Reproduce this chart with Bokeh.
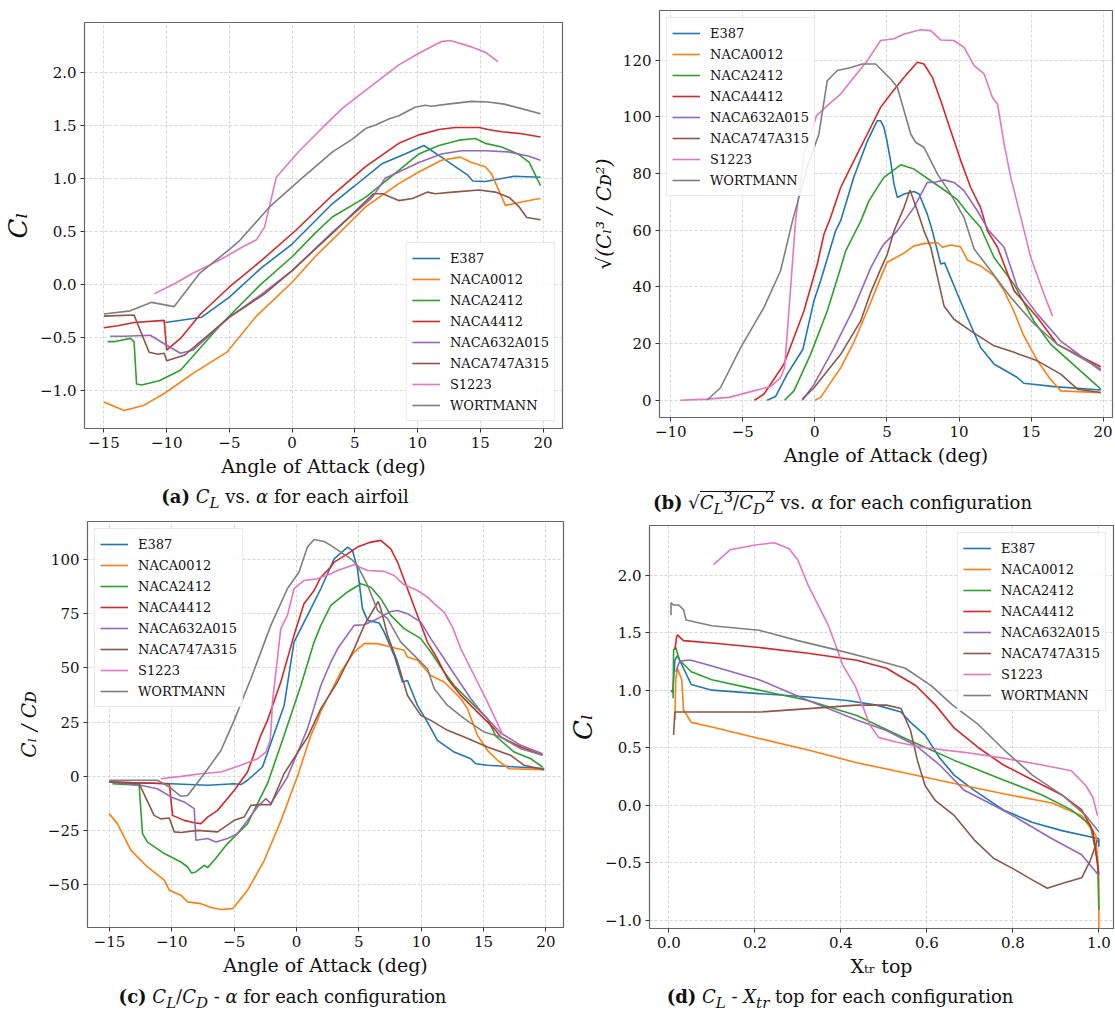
from bokeh.plotting import figure
from bokeh.models import FixedTicker, Div, Range1d
from bokeh.layouts import column, row
from bokeh.embed import file_html
from bokeh.resources import INLINE

NAMES = ["E387", "NACA0012", "NACA2412", "NACA4412", "NACA632A015", "NACA747A315", "S1223", "WORTMANN"]
COLORS = ["#1f77b4", "#ff7f0e", "#2ca02c", "#d62728", "#9467bd", "#8c564b", "#e377c2", "#7f7f7f"]

# ---------------- (a) CL vs alpha ----------------
a_e387_alpha = [-10.1, -7.2, -5, -2.5, 0, 3.2, 5, 7.2, 9, 10.5, 11.9, 13, 14, 14.4, 15.4, 17.7, 19.8]
a_e387_cl = [-0.36, -0.31, -0.12, 0.15, 0.38, 0.76, 0.93, 1.14, 1.23, 1.31, 1.20, 1.11, 1.03, 0.975, 0.97, 1.02, 1.01]
a_n0012_alpha = [-15, -13.4, -11.8, -10.2, -7.9, -5.2, -2.85, 0, 1.9, 3.2, 5.85, 8.5, 10.1, 11.9, 13.4, 14.3, 15.4, 15.9, 17.0, 18.0, 19.3, 19.8]
a_n0012_cl = [-1.11, -1.19, -1.14, -1.03, -0.84, -0.64, -0.30, 0.02, 0.27, 0.42, 0.73, 0.95, 1.06, 1.17, 1.20, 1.15, 1.11, 1.04, 0.745, 0.77, 0.80, 0.81]
a_n2412_alpha = [-14.7, -14.1, -12.9, -12.6, -12.4, -12.0, -10.6, -8.9, -7.7, -5.6, -2.5, 0, 1.9, 3.2, 5.85, 8.5, 10.1, 11.7, 13.3, 14.6, 15.4, 16.7, 18.0, 18.9, 19.8]
a_n2412_cl = [-0.54, -0.54, -0.51, -0.54, -0.94, -0.95, -0.91, -0.81, -0.65, -0.37, 0.0, 0.26, 0.49, 0.635, 0.82, 1.075, 1.23, 1.31, 1.36, 1.375, 1.33, 1.295, 1.23, 1.15, 0.93]
a_n4412_alpha = [-15, -13.9, -12.6, -10.2, -10.0, -8.9, -7.3, -5.0, -2.3, 0.3, 3.2, 5.85, 8.5, 10.1, 11.7, 13.0, 14.9, 15.6, 16.7, 18.3, 19.8]
a_n4412_cl = [-0.41, -0.39, -0.36, -0.34, -0.62, -0.51, -0.28, -0.025, 0.24, 0.51, 0.84, 1.11, 1.33, 1.41, 1.46, 1.48, 1.48, 1.46, 1.44, 1.42, 1.39]
a_n632_alpha = [-14.5, -13.4, -11.3, -10.2, -8.9, -7.9, -5.0, -2.5, 0, 3.2, 6.4, 7.4, 8.5, 10.1, 11.9, 13.5, 15.4, 17.2, 18.8, 19.8]
a_n632_cl = [-0.49, -0.49, -0.48, -0.56, -0.65, -0.62, -0.31, -0.10, 0.13, 0.49, 0.82, 1.0, 1.06, 1.15, 1.23, 1.26, 1.26, 1.25, 1.21, 1.17]
a_n747_alpha = [-15, -12.6, -11.4, -10.7, -10.2, -10.0, -8.6, -5.0, -2.2, 0, 3.2, 6.5, 7.2, 8.5, 9.6, 10.8, 11.4, 12.8, 14.9, 16.2, 17.3, 18.1, 18.7, 19.8]
a_n747_cl = [-0.30, -0.29, -0.64, -0.66, -0.65, -0.72, -0.67, -0.31, -0.09, 0.13, 0.48, 0.855, 0.855, 0.79, 0.81, 0.87, 0.855, 0.87, 0.89, 0.87, 0.82, 0.73, 0.63, 0.61]
a_s1223_alpha = [-11.0, -9.3, -8.0, -6.6, -5.3, -4.0, -2.85, -2.2, -1.26, 0.58, 2.43, 4.0, 5.85, 8.5, 10.1, 11.9, 12.6, 14.3, 15.4, 16.4]
a_s1223_cl = [-0.09, 0.01, 0.10, 0.18, 0.26, 0.35, 0.42, 0.54, 1.01, 1.26, 1.48, 1.66, 1.83, 2.07, 2.18, 2.29, 2.30, 2.24, 2.19, 2.10]
a_wort_alpha = [-15, -12.9, -11.2, -9.4, -7.4, -5.0, -4.16, -1.8, 0.58, 3.22, 4.8, 5.85, 6.6, 7.7, 8.5, 9.8, 10.6, 11.1, 12.4, 14.3, 15.6, 16.9, 18.2, 19.8]
a_wort_cl = [-0.28, -0.25, -0.17, -0.21, 0.10, 0.33, 0.415, 0.73, 0.98, 1.25, 1.37, 1.47, 1.50, 1.56, 1.59, 1.67, 1.69, 1.68, 1.70, 1.726, 1.72, 1.70, 1.66, 1.61]

# ---------------- (b) sqrt(CL^3/CD^2) vs alpha ----------------
b_e387_alpha = [-3.31, -2.73, -1.92, -0.83, -0.07, 0.4, 1.44, 1.79, 2.7, 3.65, 4.33, 4.56, 4.79, 5.0, 5.25, 5.49, 5.72, 6.19, 6.88, 7.23, 7.8, 8.15, 8.73, 9.0, 9.89, 10.58, 11.5, 12.45, 14.05, 14.5, 16.6, 19.84]
b_e387_v = [0, 1.3, 9.2, 18.0, 35, 42.2, 59.8, 63.4, 78.7, 91.6, 98.7, 98.7, 96.3, 91.6, 84.6, 76.3, 71.6, 72.8, 73.7, 72.8, 65.7, 59.8, 48.1, 48.5, 37.5, 29.2, 18.6, 12.7, 8.0, 6.0, 4.8, 3.6]
b_n0012_alpha = [0, 0.4, 1.8, 2.7, 3.87, 4.56, 5.0, 6.2, 6.88, 7.57, 8.5, 8.85, 9.42, 10.1, 10.6, 11.5, 12.43, 13.13, 13.8, 14.5, 15.45, 16.25, 17.06, 19.84]
b_n0012_v = [0, 1, 11.5, 20.4, 34.5, 43.3, 48.6, 52, 54.5, 55.3, 55.7, 54, 54.8, 54.2, 49.4, 47.4, 43.9, 38.6, 31.5, 22.7, 13.9, 8, 3.3, 2.7]
b_n2412_alpha = [-2.1, -1.45, -0.3, 0.86, 1.79, 2.14, 2.72, 3.2, 3.75, 4.56, 4.79, 5.95, 6.88, 8.04, 8.73, 9.89, 10.58, 11.5, 12.43, 13.82, 15.2, 16.37, 18.68, 19.84]
b_n2412_v = [0, 3.3, 16.2, 31.5, 46.8, 52.7, 58.6, 63.4, 70.4, 76.9, 78.7, 83.1, 81.6, 77.5, 75.1, 70.8, 66.3, 61.0, 50.4, 40.9, 27.9, 19.7, 9.2, 3.9]
b_n4412_alpha = [-4.2, -3.54, -2.15, -0.76, 0.17, 0.63, 1.09, 1.79, 2.71, 3.64, 4.56, 5.26, 6.19, 7.11, 7.57, 8.15, 8.73, 9.42, 10.12, 10.81, 11.5, 11.97, 12.67, 13.82, 15.44, 16.83, 19.84]
b_n4412_v = [0, 2.1, 12.7, 31.5, 48.1, 58.6, 64.5, 75.1, 84.6, 94, 103.4, 108.1, 114, 119.3, 118.7, 114, 105.8, 95.2, 84.6, 75.1, 68, 59.8, 54, 38.7, 29.2, 19.7, 11.8]
b_n632_alpha = [-0.87, -0.06, 1.33, 2.72, 3.88, 4.56, 4.79, 5.72, 6.88, 7.8, 8.27, 8.96, 9.65, 10.35, 11.27, 12.08, 13.13, 14.05, 15.44, 17.06, 19.84]
b_n632_v = [0, 5.6, 18.5, 32.7, 46.8, 53.3, 55.1, 59.8, 68.1, 76.9, 76.9, 77.8, 76.9, 74, 66.9, 59.8, 54, 39.8, 30.4, 20.9, 10.4]
b_n747_alpha = [-0.87, -0.06, 1.79, 3.18, 3.87, 4.56, 5.03, 5.49, 6.19, 6.6, 7.11, 7.57, 8.04, 8.96, 9.65, 10.81, 12.43, 13.82, 15.44, 17.06, 18.22, 19.84]
b_n747_v = [0.4, 4.4, 16.2, 28.0, 38.0, 46.3, 51.6, 59.8, 68.1, 74.2, 66.9, 59.8, 54, 33.3, 28.6, 24.5, 19.2, 16.9, 13.9, 9.2, 3.9, 2.7]
b_s1223_alpha = [-9.33, -7.48, -5.97, -4.24, -3.08, -2.38, -2.1, -1.68, -1.34, -0.76, 0.12, 0.86, 1.79, 2.71, 3.64, 4.56, 5.49, 6.19, 7.34, 8.04, 8.73, 9.65, 10.35, 11.05, 11.74, 12.32, 12.67, 13.13, 13.59, 14.52, 14.98, 15.9, 16.49]
b_s1223_v = [0, 0.4, 1.0, 3.3, 4.8, 8.0, 11.5, 39.8, 63.4, 86.9, 100.5, 104, 108.1, 114, 119.9, 127, 127.6, 129.3, 130.8, 130.5, 127.2, 127, 124.6, 118.1, 115.2, 106.9, 104.6, 90.5, 78.7, 59.8, 50.4, 37.4, 29.7]
b_wort_alpha = [-7.48, -6.55, -5.16, -3.54, -2.38, -1.55, -0.53, 0.28, 0.86, 1.56, 2.37, 3.3, 4.21, 4.79, 5.26, 5.72, 6.19, 6.65, 7.0, 7.57, 8.5, 9.42, 10.35, 11.05, 12.2, 13.6, 15.2, 16.83, 19.84]
b_wort_v = [0, 4.4, 18.5, 32.7, 45.7, 63.4, 82.2, 94, 112.8, 116.4, 117.3, 118.7, 118.7, 115.8, 113.4, 110.5, 102.2, 94, 91, 89.3, 79.9, 72.8, 64.5, 53.4, 45.7, 36.3, 27.0, 19.7, 11]

# ---------------- (c) CL/CD vs alpha ----------------
c_e387_alpha = [-15.03, -10.07, -7.1, -5.0, -4.46, -3.93, -2.73, -1.93, -0.99, -0.2, 0.88, 1.95, 3.02, 4.1, 4.49, 4.89, 5.29, 5.7, 6.63, 7.03, 7.83, 8.5, 8.9, 9.7, 10.5, 11.3, 12.64, 13.97, 14.38, 15.3, 19.86]
c_e387_v = [-2.6, -3.4, -4.1, -3.4, -3.8, -1.8, 4.3, 17.4, 32.7, 61.9, 74.2, 86.5, 100.3, 105.7, 104.1, 95.7, 77.3, 71.9, 70.7, 66.5, 55.8, 43.5, 44.2, 32.7, 25.0, 16.6, 11.2, 8.1, 5.8, 5.1, 3.6]
c_n0012_alpha = [-15.03, -14.36, -13.29, -11.95, -10.6, -10.2, -9.27, -8.73, -7.66, -6.86, -6.06, -5.12, -3.92, -2.58, -1.24, 0.1, 1.15, 1.68, 1.95, 2.75, 3.55, 4.62, 5.43, 6.5, 7.56, 8.63, 8.9, 9.7, 10.77, 11.84, 13.18, 13.71, 14.51, 15.31, 16.12, 17.05, 19.86]
c_n0012_v = [-17.2, -21.8, -34, -41.8, -47.9, -52.5, -54.8, -57.9, -58.7, -60.5, -61.4, -61.0, -52.5, -38.7, -20.3, 0.4, 18.9, 25.8, 30, 39, 48.1, 57.3, 61.2, 61.2, 59.6, 58.1, 55.0, 53.5, 46.5, 43.5, 35.8, 31.2, 18.9, 12.0, 7.4, 3.5, 3.1]
c_n2412_alpha = [-14.76, -12.62, -12.35, -11.95, -10.6, -9.27, -8.73, -8.42, -8.07, -7.4, -7.13, -6.6, -5.53, -3.93, -2.33, -0.99, 0.35, 1.41, 1.95, 2.75, 4.09, 5.16, 5.96, 6.76, 7.56, 8.63, 9.97, 10.77, 11.84, 12.64, 13.98, 15.31, 15.98, 17.45, 18.79, 19.73]
c_n2412_v = [-3.4, -4.1, -26.4, -30.3, -35.6, -39.5, -41.8, -44.6, -44.1, -41.0, -42.1, -38.7, -31.0, -21.8, -3.4, 18.9, 41.9, 61.9, 69.6, 78.8, 85.0, 88.8, 87.2, 81.9, 74.2, 68.1, 63.5, 57.3, 48.1, 41.9, 34.2, 26.6, 18.5, 11.2, 8.1, 4.3]
c_n4412_alpha = [-15.03, -10.2, -9.94, -9.0, -8.2, -7.66, -7.13, -6.33, -5.0, -3.93, -2.86, -2.33, -1.26, -0.2, 0.6, 1.41, 1.95, 2.75, 3.02, 4.09, 4.89, 5.96, 6.76, 7.56, 8.1, 8.9, 9.7, 10.5, 11.3, 12.11, 13.18, 14.51, 15.85, 16.38, 17.99, 19.73]
c_n4412_v = [-2.6, -3.4, -18.0, -20.3, -21.4, -21.8, -18.8, -15.7, -6.5, 2.0, 18.9, 25.8, 43.5, 65.0, 79.6, 85.7, 91.8, 96.5, 98.8, 102.6, 105.7, 108, 108.8, 104.9, 98.8, 86.5, 74.2, 61.9, 54.2, 45.0, 37.3, 29.6, 22.0, 18.1, 13.5, 9.7]
c_n632_alpha = [-15.03, -12.49, -11.15, -10.07, -9.0, -8.2, -8.07, -7.13, -6.46, -5.53, -4.73, -3.93, -3.13, -2.46, -2.06, -0.73, 0.88, 1.95, 2.75, 3.29, 4.62, 5.43, 6.5, 7.56, 8.1, 8.9, 9.97, 10.77, 11.84, 12.9, 13.98, 15.05, 16.38, 17.99, 19.73]
c_n632_v = [-2.6, -4.1, -5.7, -9.5, -11.8, -14.9, -29.5, -28.7, -30.3, -28.7, -26.4, -20.3, -14.1, -10.3, -12.6, -0.3, 22.0, 41.9, 52.7, 58.8, 69.6, 69.9, 72.7, 76.0, 76.5, 75.0, 71.1, 63.5, 54.2, 45.0, 35.8, 28.1, 20.0, 14.3, 10.4]
c_n747_alpha = [-15.03, -12.62, -11.42, -10.88, -10.2, -9.8, -9.27, -7.93, -6.33, -5.0, -4.2, -3.66, -2.86, -2.06, -1.0, 0.88, 1.95, 2.75, 3.29, 4.62, 5.43, 6.55, 6.76, 7.3, 8.1, 8.9, 9.97, 10.77, 12.11, 13.45, 15.31, 17.18, 18.25, 19.86]
c_n747_v = [-2.6, -3.4, -18.0, -19.6, -19.2, -25.6, -25.9, -24.9, -25.6, -20.3, -18.8, -13.4, -13.0, -13.1, 1.2, 18.0, 31.2, 38.5, 43.5, 58.8, 69.6, 80.6, 77.3, 65, 52.7, 37.3, 28.1, 25.8, 21.2, 18.1, 13.5, 9.7, 5.1, 3.1]
c_s1223_alpha = [-10.88, -9.27, -7.66, -6.06, -4.46, -3.13, -2.46, -2.11, -2.0, -1.93, -1.26, -0.73, -0.2, 0.6, 1.68, 2.75, 3.29, 4.62, 5.7, 7.03, 7.83, 8.63, 9.7, 10.5, 11.04, 11.84, 12.51, 13.18, 14.25, 15.31, 16.52]
c_s1223_v = [-1.1, 0.0, 1.2, 2.0, 5.1, 8.1, 11.2, 16.6, 25.8, 34.2, 68.1, 74.2, 86.5, 90.3, 91.1, 93.4, 94.9, 97.6, 94.9, 94.5, 92.6, 88.3, 85.7, 82.6, 79.6, 75.7, 68.8, 58.8, 46.5, 34.2, 19.5]
c_wort_alpha = [-15.03, -11.15, -10.2, -9.27, -8.73, -7.4, -6.06, -5.53, -5.0, -3.66, -2.06, -0.73, 0.2, 0.88, 1.41, 2.22, 2.75, 3.55, 4.36, 4.89, 5.7, 6.5, 7.3, 8.36, 9.43, 10.5, 11.04, 12.11, 13.45, 15.05, 16.38, 17.99, 19.73]
c_wort_v = [-1.8, -1.8, -4.9, -9.2, -8.8, 1.2, 11.9, 18.9, 25.8, 45.0, 69.6, 86.5, 94.2, 105.7, 109.2, 108.3, 106.5, 103.4, 100.3, 97.2, 88.0, 76.5, 72.7, 61.9, 55.8, 49.6, 40.4, 32.7, 26.6, 20.4, 18.1, 12.7, 9.7]

# ---------------- (d) CL vs Xtr top ----------------
d_e387_x = [0.005, 0.009, 0.014, 0.02, 0.034, 0.052, 0.1, 0.21, 0.324, 0.415, 0.483, 0.54, 0.562, 0.596, 0.63, 0.664, 0.71, 0.778, 0.846, 0.914, 1.0, 1.0]
d_e387_cl = [1.0, 0.98, 1.26, 1.30, 1.19, 1.05, 1.0, 0.97, 0.94, 0.91, 0.87, 0.81, 0.72, 0.61, 0.41, 0.26, 0.13, -0.04, -0.15, -0.22, -0.29, -0.36]
d_n0012_x = [0.014, 0.016, 0.02, 0.03, 0.034, 0.052, 0.1, 0.21, 0.324, 0.437, 0.55, 0.664, 0.778, 0.891, 0.96, 0.993, 1.0, 1.0]
d_n0012_cl = [0.74, 1.09, 1.19, 1.09, 0.83, 0.72, 0.68, 0.58, 0.48, 0.37, 0.28, 0.19, 0.10, 0.02, -0.09, -0.26, -0.65, -1.19]
d_n2412_x = [0.01, 0.011, 0.016, 0.025, 0.052, 0.1, 0.21, 0.324, 0.437, 0.55, 0.664, 0.778, 0.868, 0.936, 0.98, 0.997, 1.0]
d_n2412_cl = [0.93, 1.35, 1.37, 1.26, 1.16, 1.09, 1.0, 0.91, 0.78, 0.58, 0.39, 0.22, 0.09, -0.04, -0.17, -0.48, -0.91]
d_n4412_x = [0.014, 0.018, 0.02, 0.034, 0.1, 0.21, 0.324, 0.437, 0.506, 0.574, 0.62, 0.664, 0.72, 0.778, 0.846, 0.914, 0.96, 0.986, 1.0]
d_n4412_cl = [1.35, 1.46, 1.48, 1.43, 1.41, 1.37, 1.32, 1.26, 1.19, 1.04, 0.87, 0.67, 0.50, 0.35, 0.22, 0.09, -0.04, -0.22, -0.60]
d_n632_x = [0.016, 0.025, 0.04, 0.052, 0.1, 0.21, 0.324, 0.437, 0.506, 0.574, 0.63, 0.687, 0.755, 0.8, 0.891, 0.96, 1.0]
d_n632_cl = [1.16, 1.25, 1.26, 1.26, 1.21, 1.09, 0.91, 0.74, 0.65, 0.52, 0.35, 0.13, 0.0, -0.09, -0.29, -0.43, -0.61]
d_n747_x = [0.011, 0.014, 0.03, 0.1, 0.21, 0.324, 0.437, 0.506, 0.54, 0.562, 0.578, 0.596, 0.62, 0.664, 0.71, 0.755, 0.8, 0.846, 0.88, 0.914, 0.96, 0.98, 0.997]
d_n747_cl = [0.61, 0.81, 0.81, 0.81, 0.81, 0.84, 0.87, 0.87, 0.84, 0.65, 0.39, 0.17, 0.04, -0.09, -0.30, -0.46, -0.55, -0.65, -0.72, -0.68, -0.63, -0.48, -0.30]
d_s1223_x = [0.104, 0.143, 0.2, 0.245, 0.279, 0.30, 0.324, 0.347, 0.37, 0.388, 0.404, 0.433, 0.45, 0.467, 0.488, 0.528, 0.596, 0.687, 0.778, 0.868, 0.936, 0.97, 0.986, 0.997]
d_s1223_cl = [2.09, 2.22, 2.26, 2.28, 2.23, 2.13, 1.91, 1.74, 1.57, 1.39, 1.22, 1.04, 0.87, 0.70, 0.59, 0.55, 0.50, 0.46, 0.41, 0.35, 0.30, 0.17, 0.07, -0.09]
d_wort_x = [0.005, 0.005, 0.01, 0.023, 0.034, 0.04, 0.1, 0.21, 0.30, 0.39, 0.483, 0.55, 0.61, 0.66, 0.72, 0.78, 0.846, 0.914, 0.97, 1.0]
d_wort_cl = [1.65, 1.76, 1.74, 1.74, 1.70, 1.61, 1.56, 1.52, 1.43, 1.35, 1.26, 1.19, 1.04, 0.87, 0.70, 0.48, 0.26, 0.09, -0.09, -0.23]

# ---------------- ticks ----------------
a_xticks = [-15, -10, -5, 0, 5, 10, 15, 20]
a_xlabels = ["−15", "−10", "−5", "0", "5", "10", "15", "20"]
a_yticks = [-1.0, -0.5, 0.0, 0.5, 1.0, 1.5, 2.0]
a_ylabels = ["−1.0", "−0.5", "0.0", "0.5", "1.0", "1.5", "2.0"]
b_xticks = [-10, -5, 0, 5, 10, 15, 20]
b_xlabels = ["−10", "−5", "0", "5", "10", "15", "20"]
b_yticks = [0, 20, 40, 60, 80, 100, 120]
b_ylabels = ["0", "20", "40", "60", "80", "100", "120"]
c_xticks = [-15, -10, -5, 0, 5, 10, 15, 20]
c_xlabels = ["−15", "−10", "−5", "0", "5", "10", "15", "20"]
c_yticks = [-50, -25, 0, 25, 50, 75, 100]
c_ylabels = ["−50", "−25", "0", "25", "50", "75", "100"]
d_xticks = [0.0, 0.2, 0.4, 0.6, 0.8, 1.0]
d_xlabels = ["0.0", "0.2", "0.4", "0.6", "0.8", "1.0"]
d_yticks = [-1.0, -0.5, 0.0, 0.5, 1.0, 1.5, 2.0]
d_ylabels = ["−1.0", "−0.5", "0.0", "0.5", "1.0", "1.5", "2.0"]

FONT = "DejaVu Serif"


def make_fig(w, h, bl, br, bt, bb, xr, yr, xt, xl, yt, yl, xlabel, ylabel, ylabel_size):
    p = figure(width=w, height=h, output_backend="svg", toolbar_location=None,
               x_range=Range1d(*xr), y_range=Range1d(*yr),
               min_border_left=bl, min_border_right=br, min_border_top=bt, min_border_bottom=bb,
               margin=(0, 0, 0, 0))
    p.xaxis.ticker = FixedTicker(ticks=xt)
    p.yaxis.ticker = FixedTicker(ticks=yt)
    p.xaxis.major_label_overrides = {t: s for t, s in zip(xt, xl)}
    p.yaxis.major_label_overrides = {t: s for t, s in zip(yt, yl)}
    for ax in (p.xaxis[0], p.yaxis[0]):
        ax.axis_line_color = None
        ax.major_tick_in = 0
        ax.major_tick_out = 4
        ax.minor_tick_line_color = None
        ax.major_tick_line_color = "#333333"
        ax.major_label_text_font = FONT
        ax.major_label_text_font_size = "15px"
        ax.major_label_text_color = "#111111"
        ax.major_label_standoff = 4
        ax.axis_label_text_font = FONT
        ax.axis_label_text_font_style = "normal"
        ax.axis_label_text_color = "#111111"
    p.xaxis.axis_label = xlabel
    p.xaxis.axis_label_text_font_size = "19px"
    p.xaxis.axis_label_standoff = 4
    p.yaxis.axis_label = ylabel
    p.yaxis.axis_label_text_font_size = ylabel_size
    p.yaxis.axis_label_text_font_style = "italic"
    p.yaxis.axis_label_standoff = 4
    p.outline_line_color = "#666666"
    p.outline_line_width = 1.2
    p.outline_line_alpha = 1.0
    for g in (p.xgrid[0], p.ygrid[0]):
        g.grid_line_color = "#cccccc"
        g.grid_line_dash = "3 2"
        g.grid_line_width = 0.8
    p.background_fill_color = "white"
    p.border_fill_color = "white"
    return p


def add_lines(p, series, loc):
    for (xs, ys), name, col in zip(series, NAMES, COLORS):
        p.line(xs, ys, line_color=col, line_width=1.6, legend_label=name)
    lg = p.legend[0]
    lg.location = loc
    lg.label_text_font = FONT
    lg.label_text_font_size = "13px"
    lg.label_text_color = "#111111"
    lg.glyph_width = 28
    lg.glyph_height = 20
    lg.label_height = 20
    lg.label_standoff = 10
    lg.spacing = 1
    lg.padding = 5
    lg.margin = 7
    lg.border_line_color = "#d5d5d5"
    lg.background_fill_alpha = 0.85


pa = make_fig(570, 480, 80, 8, 22, 52, (-16.55, 21.55), (-1.36, 2.47),
              a_xticks, a_xlabels, a_yticks, a_ylabels, "Angle of Attack (deg)", "Cₗ", "26px")
add_lines(pa, [(a_e387_alpha, a_e387_cl), (a_n0012_alpha, a_n0012_cl), (a_n2412_alpha, a_n2412_cl),
               (a_n4412_alpha, a_n4412_cl), (a_n632_alpha, a_n632_cl), (a_n747_alpha, a_n747_cl),
               (a_s1223_alpha, a_s1223_cl), (a_wort_alpha, a_wort_cl)], "bottom_right")

pb = make_fig(545, 480, 89, 3, 10, 63, (-10.78, 20.65), (-6.1, 137.6),
              b_xticks, b_xlabels, b_yticks, b_ylabels, "Angle of Attack (deg)", "√(Cₗ³ / Cᴅ²)", "20px")
add_lines(pb, [(b_e387_alpha, b_e387_v), (b_n0012_alpha, b_n0012_v), (b_n2412_alpha, b_n2412_v),
               (b_n4412_alpha, b_n4412_v), (b_n632_alpha, b_n632_v), (b_n747_alpha, b_n747_v),
               (b_s1223_alpha, b_s1223_v), (b_wort_alpha, b_wort_v)], "top_left")

pc = make_fig(565, 465, 87, 2, 6, 53, (-16.76, 21.41), (-69.7, 117.5),
              c_xticks, c_xlabels, c_yticks, c_ylabels, "Angle of Attack (deg)", "Cₗ / Cᴅ", "20px")
add_lines(pc, [(c_e387_alpha, c_e387_v), (c_n0012_alpha, c_n0012_v), (c_n2412_alpha, c_n2412_v),
               (c_n4412_alpha, c_n4412_v), (c_n632_alpha, c_n632_v), (c_n747_alpha, c_n747_v),
               (c_s1223_alpha, c_s1223_v), (c_wort_alpha, c_wort_v)], "top_left")

pd = make_fig(550, 465, 72, 2, 10, 52, (-0.045, 1.034), (-1.07, 2.43),
              d_xticks, d_xlabels, d_yticks, d_ylabels, "Xₜᵣ top", "Cₗ", "26px")
add_lines(pd, [(d_e387_x, d_e387_cl), (d_n0012_x, d_n0012_cl), (d_n2412_x, d_n2412_cl),
               (d_n4412_x, d_n4412_cl), (d_n632_x, d_n632_cl), (d_n747_x, d_n747_cl),
               (d_s1223_x, d_s1223_cl), (d_wort_x, d_wort_cl)], "top_right")

CAP_STYLE = {"font-family": FONT, "font-size": "18px", "text-align": "center",
             "line-height": "34px", "color": "#111111", "width": "100%"}

cap_a = Div(text="<b>(a)</b> <i>C<sub>L</sub></i> vs. <i>α</i> for each airfoil",
            width=570, height=35, styles=CAP_STYLE, margin=(0, 0, 0, 0))
cap_b = Div(text="<b>(b)</b> √<span style='border-top:1px solid #111'><i>C</i><sub><i>L</i></sub><sup>3</sup>/<i>C</i><sub><i>D</i></sub><sup>2</sup></span> vs. <i>α</i> for each configuration",
            width=545, height=35, styles=CAP_STYLE, margin=(0, 0, 0, 0))
cap_c = Div(text="<b>(c)</b> <i>C<sub>L</sub></i>/<i>C<sub>D</sub></i> - <i>α</i> for each configuration",
            width=565, height=34, styles=CAP_STYLE, margin=(0, 0, 0, 0))
cap_d = Div(text="<b>(d)</b> <i>C<sub>L</sub></i> - <i>X<sub>tr</sub></i> top for each configuration",
            width=550, height=34, styles=CAP_STYLE, margin=(0, 0, 0, 0))

layout = column(row(column(pa, cap_a, spacing=0), column(pb, cap_b, spacing=0), spacing=0),
                row(column(pc, cap_c, spacing=0), column(pd, cap_d, spacing=0), spacing=0),
                spacing=0)

open("out.html", "w").write(file_html(layout, INLINE))
